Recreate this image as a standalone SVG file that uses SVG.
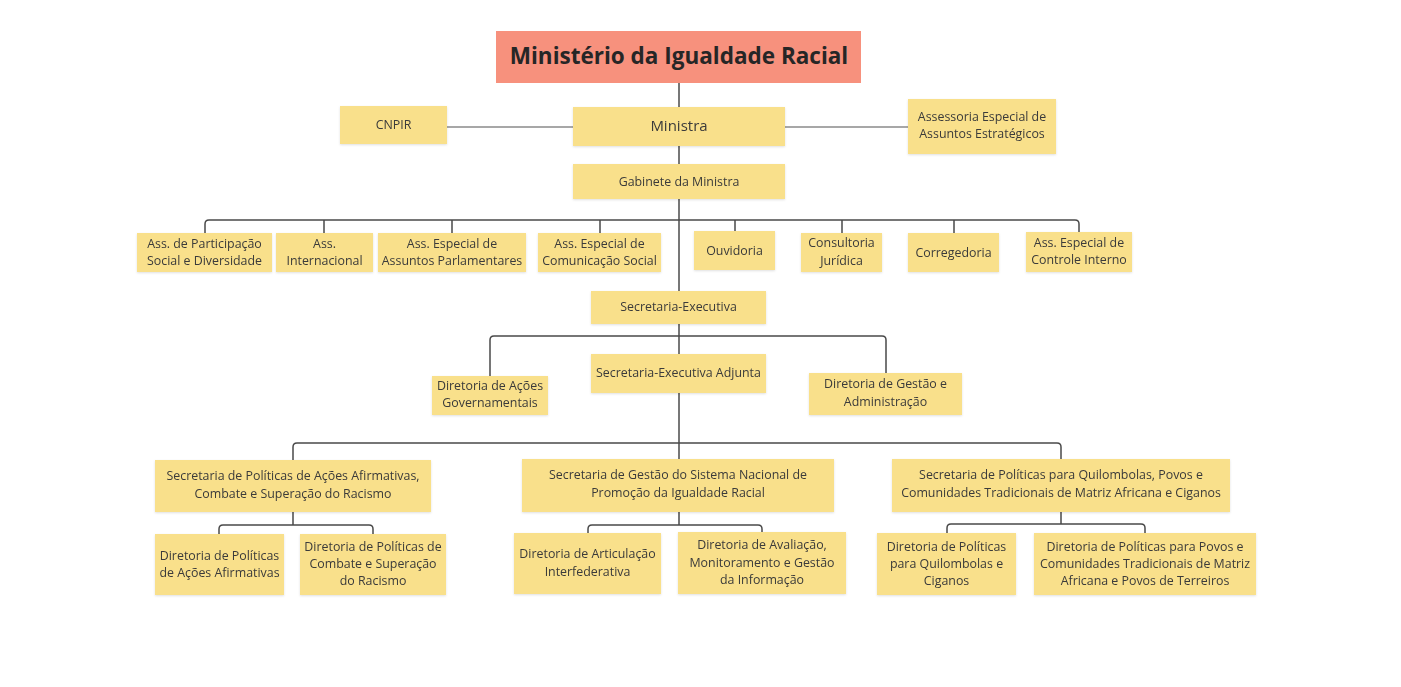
<svg xmlns="http://www.w3.org/2000/svg" width="1401" height="687" viewBox="0 0 1401 687">
<style>
.box{fill:#F9E08B}
.title{fill:#F7917D}
.t{font-family:"Open Sans","Noto Sans","Liberation Sans",sans-serif;font-size:12.4px;fill:#3a3a3a;text-anchor:middle}
.tm{font-size:15px}
.tt{font-family:"Open Sans","Noto Sans","Liberation Sans",sans-serif;font-size:22.5px;font-weight:bold;fill:#262626;text-anchor:middle}
.c{fill:none;stroke:#4a4a4a;stroke-width:1.5}
.cl{fill:none;stroke:#8a8a8a;stroke-width:1.5}
</style>
<defs>
<filter id="sh" x="-10%" y="-10%" width="120%" height="130%">
<feDropShadow dx="0" dy="1" stdDeviation="1" flood-color="#000" flood-opacity="0.12"/>
</filter>
</defs>
<rect width="1401" height="687" fill="#ffffff"/>
<g id="connectors">
<path class="c" d="M679 83V107"/>
<path class="c" d="M679 146V164"/>
<path class="cl" d="M447 127H573"/>
<path class="cl" d="M785 127H908"/>
<path class="c" d="M679 199V291"/>
<path class="c" d="M205 233V224Q205 220 209 220H1075Q1079 220 1079 224V232"/>
<path class="c" d="M324 233V220M452 233V220M600 233V220M735 231V220M842 233V220M954 233V220"/>
<path class="c" d="M679 324V354"/>
<path class="c" d="M490 376V340Q490 336 494 336H882Q886 336 886 340V373"/>
<path class="c" d="M679 393V459"/>
<path class="c" d="M293 460V447Q293 443 297 443H1057Q1061 443 1061 447V459"/>
<path class="c" d="M293 512V525M219 534V529Q219 525 223 525H369Q373 525 373 529V534"/>
<path class="c" d="M679 512V525M588 533V529Q588 525 592 525H758Q762 525 762 529V533"/>
<path class="c" d="M1061 512V524M947 533V528Q947 524 951 524H1141Q1145 524 1145 528V533"/>
</g>
<g id="n-ministerio"><rect class="title" x="496" y="31" width="365" height="52"/><text class="tt" x="679" y="64">Ministério da Igualdade Racial</text></g>
<g id="n-cnpir" filter="url(#sh)"><rect class="box" x="340" y="106" width="107" height="38"/><text class="t" x="393.5" y="129">CNPIR</text></g>
<g id="n-ministra" filter="url(#sh)"><rect class="box" x="573" y="107" width="212" height="39"/><text class="t tm" x="679" y="131">Ministra</text></g>
<g id="n-assessoria" filter="url(#sh)"><rect class="box" x="908" y="99" width="148" height="55"/><text class="t" x="982" y="121">Assessoria Especial de</text><text class="t" x="982" y="138">Assuntos Estratégicos</text></g>
<g id="n-gabinete" filter="url(#sh)"><rect class="box" x="573" y="164" width="212" height="35"/><text class="t" x="679" y="186">Gabinete da Ministra</text></g>
<g id="n-participacao" filter="url(#sh)"><rect class="box" x="137" y="233" width="135" height="39"/><text class="t" x="204.5" y="248">Ass. de Participação</text><text class="t" x="204.5" y="265">Social e Diversidade</text></g>
<g id="n-internacional" filter="url(#sh)"><rect class="box" x="276" y="233" width="97" height="39"/><text class="t" x="324.5" y="248">Ass.</text><text class="t" x="324.5" y="265">Internacional</text></g>
<g id="n-parlamentares" filter="url(#sh)"><rect class="box" x="378" y="233" width="148" height="39"/><text class="t" x="452" y="248">Ass. Especial de</text><text class="t" x="452" y="265">Assuntos Parlamentares</text></g>
<g id="n-comunicacao" filter="url(#sh)"><rect class="box" x="538" y="233" width="123" height="39"/><text class="t" x="599.5" y="248">Ass. Especial de</text><text class="t" x="599.5" y="265">Comunicação Social</text></g>
<g id="n-ouvidoria" filter="url(#sh)"><rect class="box" x="694" y="231" width="81" height="39"/><text class="t" x="734.5" y="255">Ouvidoria</text></g>
<g id="n-consultoria" filter="url(#sh)"><rect class="box" x="801" y="233" width="81" height="39"/><text class="t" x="841.5" y="247">Consultoria</text><text class="t" x="841.5" y="265">Jurídica</text></g>
<g id="n-corregedoria" filter="url(#sh)"><rect class="box" x="908" y="233" width="91" height="39"/><text class="t" x="953.5" y="257">Corregedoria</text></g>
<g id="n-controle" filter="url(#sh)"><rect class="box" x="1026" y="232" width="106" height="40"/><text class="t" x="1079" y="247">Ass. Especial de</text><text class="t" x="1079" y="264">Controle Interno</text></g>
<g id="n-secexec" filter="url(#sh)"><rect class="box" x="591" y="291" width="175" height="33"/><text class="t" x="678.5" y="311">Secretaria-Executiva</text></g>
<g id="n-adjunta" filter="url(#sh)"><rect class="box" x="591" y="354" width="175" height="39"/><text class="t" x="678.5" y="377">Secretaria-Executiva Adjunta</text></g>
<g id="n-dir-acoes-gov" filter="url(#sh)"><rect class="box" x="432" y="376" width="116" height="39"/><text class="t" x="490" y="390">Diretoria de Ações</text><text class="t" x="490" y="407">Governamentais</text></g>
<g id="n-dir-gestao-adm" filter="url(#sh)"><rect class="box" x="809" y="373" width="153" height="42"/><text class="t" x="885.5" y="388">Diretoria de Gestão e</text><text class="t" x="885.5" y="406">Administração</text></g>
<g id="n-sec-acoes" filter="url(#sh)"><rect class="box" x="155" y="460" width="276" height="52"/><text class="t" x="293" y="480">Secretaria de Políticas de Ações Afirmativas,</text><text class="t" x="293" y="498">Combate e Superação do Racismo</text></g>
<g id="n-sec-gestao" filter="url(#sh)"><rect class="box" x="522" y="459" width="312" height="53"/><text class="t" x="678" y="479">Secretaria de Gestão do Sistema Nacional de</text><text class="t" x="678" y="497">Promoção da Igualdade Racial</text></g>
<g id="n-sec-quilombolas" filter="url(#sh)"><rect class="box" x="892" y="459" width="338" height="53"/><text class="t" x="1061" y="479">Secretaria de Políticas para Quilombolas, Povos e</text><text class="t" x="1061" y="497">Comunidades Tradicionais de Matriz Africana e Ciganos</text></g>
<g id="n-dir-acoes-af" filter="url(#sh)"><rect class="box" x="155" y="534" width="129" height="61"/><text class="t" x="219.5" y="560">Diretoria de Políticas</text><text class="t" x="219.5" y="577">de Ações Afirmativas</text></g>
<g id="n-dir-combate" filter="url(#sh)"><rect class="box" x="300" y="534" width="146" height="61"/><text class="t" x="373" y="551">Diretoria de Políticas de</text><text class="t" x="373" y="568">Combate e Superação</text><text class="t" x="373" y="585">do Racismo</text></g>
<g id="n-dir-articulacao" filter="url(#sh)"><rect class="box" x="514" y="533" width="147" height="61"/><text class="t" x="587.5" y="558">Diretoria de Articulação</text><text class="t" x="587.5" y="576">Interfederativa</text></g>
<g id="n-dir-avaliacao" filter="url(#sh)"><rect class="box" x="678" y="532" width="168" height="62"/><text class="t" x="762" y="549">Diretoria de Avaliação,</text><text class="t" x="762" y="567">Monitoramento e Gestão</text><text class="t" x="762" y="584">da Informação</text></g>
<g id="n-dir-quilombolas" filter="url(#sh)"><rect class="box" x="877" y="533" width="139" height="62"/><text class="t" x="946.5" y="551">Diretoria de Políticas</text><text class="t" x="946.5" y="568">para Quilombolas e</text><text class="t" x="946.5" y="585">Ciganos</text></g>
<g id="n-dir-povos" filter="url(#sh)"><rect class="box" x="1034" y="533" width="222" height="62"/><text class="t" x="1145" y="551">Diretoria de Políticas para Povos e</text><text class="t" x="1145" y="568">Comunidades Tradicionais de Matriz</text><text class="t" x="1145" y="585">Africana e Povos de Terreiros</text></g>
</svg>
